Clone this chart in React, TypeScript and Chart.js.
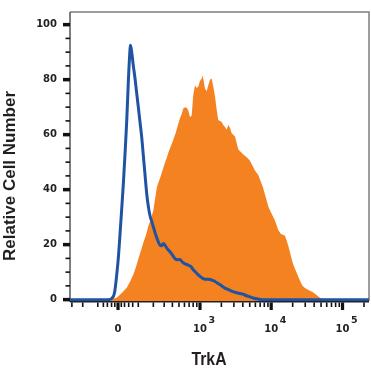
import React, { useEffect, useRef } from 'react';
import { Chart, registerables } from 'chart.js';

Chart.register(...registerables);

// X values are in display units: asinh(intensity / W) (biexponential-like axis, 0 = zero intensity)
const W = 142.6;

// Isotype control (blue outline)
const isotypeX = [-1.548, -0.323, -0.194, -0.113, -0.042, 0.016, 0.065, 0.119, 0.171, 0.226, 0.281, 0.332, 0.371, 0.403, 0.442, 0.494, 0.548, 0.603, 0.655, 0.71, 0.765, 0.816, 0.871, 0.926, 0.977, 1.032, 1.087, 1.139, 1.219, 1.3, 1.355, 1.41, 1.461, 1.516, 1.581, 1.677, 1.758, 1.839, 1.919, 2.0, 2.081, 2.161, 2.258, 2.355, 2.419, 2.484, 2.565, 2.645, 2.726, 2.806, 2.903, 2.968, 3.048, 3.129, 3.21, 3.29, 3.371, 3.452, 3.532, 3.613, 3.71, 3.829, 3.935, 4.032, 4.129, 4.258, 4.387, 4.516, 4.645, 8.097];
const isotypeY = [0, 0, 0.5, 2.5, 9, 16, 24, 33, 42, 53, 65, 79, 88, 92.5, 90, 85, 80.5, 75, 70, 64.5, 59, 52.5, 45.5, 38.5, 34, 30.5, 28.5, 26.5, 23.5, 21, 19.8, 19.6, 20.4, 19.8, 18.6, 17.4, 16.2, 14.9, 14.5, 14.6, 13.6, 13, 12.6, 12, 11, 10.2, 9.3, 8.5, 7.8, 7.4, 7.4, 7.3, 7, 6.6, 6, 5.5, 4.8, 4.2, 3.8, 3.4, 2.9, 2.5, 2.2, 2, 1.5, 1, 0.5, 0.2, 0, 0];

// TrkA stained cells (filled orange)
const trkaX = [-1.548, -0.323, -0.194, -0.042, 0.097, 0.281, 0.387, 0.494, 0.581, 0.655, 0.742, 0.816, 0.903, 0.977, 1.065, 1.139, 1.194, 1.248, 1.3, 1.355, 1.435, 1.516, 1.571, 1.623, 1.71, 1.784, 1.871, 1.945, 2.0, 2.055, 2.106, 2.161, 2.216, 2.268, 2.323, 2.377, 2.429, 2.484, 2.539, 2.59, 2.645, 2.7, 2.732, 2.774, 2.806, 2.861, 2.913, 2.968, 3.023, 3.074, 3.129, 3.184, 3.235, 3.29, 3.345, 3.397, 3.452, 3.506, 3.558, 3.613, 3.668, 3.719, 3.774, 3.829, 3.881, 3.935, 3.99, 4.042, 4.097, 4.177, 4.258, 4.339, 4.419, 4.526, 4.635, 4.687, 4.742, 4.848, 4.903, 4.958, 5.065, 5.171, 5.258, 5.323, 5.387, 5.442, 5.494, 5.548, 5.603, 5.655, 5.71, 5.765, 5.816, 5.871, 5.926, 5.977, 6.032, 6.113, 6.194, 6.274, 6.355, 6.435, 6.516, 6.613, 6.71, 8.097];
const trkaY = [0, 0, 0.2, 0.7, 2.1, 4.3, 6.5, 9.1, 12, 14.8, 18, 20.7, 23.5, 26.7, 29.5, 32.4, 36.5, 40.6, 42.5, 44.1, 47, 49.9, 51.5, 53.4, 56, 58.1, 61, 64, 66, 67.5, 69.5, 70, 69.8, 68.8, 66.3, 67, 74.5, 78, 77, 77.5, 79.5, 80.4, 81.5, 79, 76.8, 75.8, 78, 80, 80.4, 77.5, 74, 69, 65.3, 65, 64.6, 63.5, 62.8, 61.8, 63.5, 62.5, 60.5, 60, 59.3, 57, 54.7, 54, 53.4, 52.8, 52.3, 51.5, 50.5, 48.8, 47, 45.3, 42.1, 40.5, 38.2, 34, 32.5, 31.2, 28.8, 25.3, 23.9, 23.6, 23.2, 21.5, 19.6, 17.3, 14.8, 12.8, 11.2, 9.8, 8.4, 7, 5.6, 4.8, 4.2, 3.7, 3.2, 2.8, 2.1, 1.4, 0.7, 0.2, 0, 0];

// Axis ticks
const xMajorValues = [0, 1000, 10000, 100000];
const xMajorBase = ['0', '10', '10', '10'];
const xMajorExp = ['', '3', '4', '5'];
const xMinorValues = [-300, -200, -100, -70, -50, -30, -15, 15, 30, 50, 70, 100, 200, 300, 400, 500, 600, 700, 800, 900, 2000, 3000, 4000, 5000, 6000, 7000, 8000, 9000, 20000, 30000, 40000, 50000, 60000, 70000, 80000, 90000, 200000];
const yMajorTicks = [0, 20, 40, 60, 80, 100];
const yMinorTicks = [5, 10, 15, 25, 30, 35, 45, 50, 55, 65, 70, 75, 85, 90, 95];

const xTitle = 'TrkA';
const yTitle = 'Relative Cell Number';

const FONT = '"DejaVu Sans"';
const TITLE_FONT = '"Liberation Sans"';
const TEXT = '#231f20';

const toDisplay = (v: number) => Math.asinh(v / W);

const flowAxes = {
  id: 'flowAxes',
  beforeDatasetsDraw(chart: any) {
    const { ctx, chartArea: ca, scales } = chart;
    const xs = scales.x;
    const ys = scales.y;
    ctx.save();
    // frame (top/right)
    ctx.strokeStyle = '#7d7d7d';
    ctx.lineWidth = 1.5;
    ctx.beginPath();
    ctx.moveTo(ca.left, ca.top);
    ctx.lineTo(ca.right, ca.top);
    ctx.lineTo(ca.right, ca.bottom);
    ctx.stroke();
    // left axis
    ctx.strokeStyle = '#555';
    ctx.beginPath();
    ctx.moveTo(ca.left, ca.top);
    ctx.lineTo(ca.left, ca.bottom + 1);
    ctx.stroke();
    // bottom axis
    ctx.strokeStyle = '#222';
    ctx.lineWidth = 2.2;
    ctx.beginPath();
    ctx.moveTo(ca.left, ca.bottom + 0.5);
    ctx.lineTo(ca.right, ca.bottom + 0.5);
    ctx.stroke();

    ctx.strokeStyle = '#111';
    // y ticks
    for (const t of ys.ticks) {
      const p = ys.getPixelForValue(t.value);
      const major = yMajorTicks.includes(t.value);
      ctx.lineWidth = major ? 3.5 : 1.6;
      ctx.beginPath();
      ctx.moveTo(ca.left - (major ? 7 : 4.5), p);
      ctx.lineTo(ca.left, p);
      ctx.stroke();
    }
    // x ticks
    const drawX = (v: number, major: boolean) => {
      const p = xs.getPixelForValue(toDisplay(v));
      if (p < ca.left || p > ca.right) return;
      ctx.lineWidth = major ? 3.2 : 1.6;
      ctx.beginPath();
      ctx.moveTo(p, ca.bottom + 1.5);
      ctx.lineTo(p, ca.bottom + (major ? 9 : 6));
      ctx.stroke();
    };
    xMinorValues.forEach((v) => drawX(v, false));
    xMajorValues.forEach((v) => drawX(v, true));
    ctx.restore();
  },
  afterDraw(chart: any) {
    const { ctx, chartArea: ca, scales } = chart;
    const xs = scales.x;
    ctx.save();
    ctx.fillStyle = TEXT;
    // x tick labels with superscript exponents
    xMajorValues.forEach((v, i) => {
      const p = xs.getPixelForValue(toDisplay(v));
      ctx.font = `bold 10px ${FONT}`;
      ctx.textAlign = 'center';
      ctx.textBaseline = 'middle';
      const base = xMajorBase[i];
      ctx.fillText(base, p, ca.bottom + 28.5);
      if (xMajorExp[i]) {
        const w = ctx.measureText(base).width;
        ctx.font = `bold 9.5px ${FONT}`;
        ctx.textAlign = 'left';
        ctx.fillText(xMajorExp[i], p + w / 2 + 1.5, ca.bottom + 19.5);
      }
    });
    // x title (slightly condensed)
    ctx.save();
    ctx.translate(209, ca.bottom + 59);
    ctx.scale(0.9, 1);
    ctx.font = `bold 17.5px ${TITLE_FONT}`;
    ctx.textAlign = 'center';
    ctx.textBaseline = 'middle';
    ctx.fillText(xTitle, 0, 0);
    ctx.restore();
    // y title
    ctx.translate(10.5, 176);
    ctx.rotate(-Math.PI / 2);
    ctx.font = `bold 17px ${TITLE_FONT}`;
    ctx.textAlign = 'center';
    ctx.textBaseline = 'middle';
    ctx.fillText(yTitle, 0, 0);
    ctx.restore();
  },
};

export default function App() {
  const ref = useRef<HTMLCanvasElement | null>(null);

  useEffect(() => {
    if (!ref.current) return;
    const chart = new Chart(ref.current, {
      type: 'line',
      data: {
        datasets: [
          {
            label: 'Isotype',
            data: isotypeX.map((x, i) => ({ x, y: isotypeY[i] })),
            borderColor: '#1f53a3',
            borderWidth: 3,
            pointRadius: 0,
            fill: false,
            cubicInterpolationMode: 'monotone',
            order: 1,
          },
          {
            label: 'TrkA',
            data: trkaX.map((x, i) => ({ x, y: trkaY[i] })),
            borderWidth: 0,
            borderColor: 'rgba(0,0,0,0)',
            backgroundColor: '#f58220',
            pointRadius: 0,
            fill: 'start',
            tension: 0,
            order: 2,
          },
        ],
      },
      options: {
        responsive: false,
        animation: false,
        devicePixelRatio: 1,
        layout: { padding: { top: 2, right: 2, left: 0, bottom: 0 } },
        plugins: { legend: { display: false }, tooltip: { enabled: false } },
        scales: {
          x: {
            type: 'linear',
            min: -1.55,
            max: 8.1,
            grid: { display: false },
            border: { display: false },
            ticks: { display: false },
            afterFit: (s: any) => {
              s.height = 71;
            },
          },
          y: {
            type: 'linear',
            min: -0.5,
            max: 104.6,
            grid: { display: false, drawTicks: true, tickLength: 7 },
            border: { display: false },
            afterBuildTicks: (s: any) => {
              s.ticks = [...yMajorTicks, ...yMinorTicks].sort((a, b) => a - b).map((v) => ({ value: v }));
            },
            ticks: {
              autoSkip: false,
              padding: 6,
              color: TEXT,
              font: { family: FONT, weight: 'bold', size: 10 },
              callback: (v: any) => (yMajorTicks.includes(Number(v)) ? String(v) : ''),
            },
            afterFit: (s: any) => {
              s.width = 70;
            },
          },
        },
      },
      plugins: [flowAxes],
    } as any);
    return () => chart.destroy();
  }, []);

  return (
    <div style={{ position: 'fixed', left: 0, top: 0, width: 371, height: 372, background: '#fff' }}>
      <canvas ref={ref} width={371} height={372} style={{ display: 'block' }} />
    </div>
  );
}
